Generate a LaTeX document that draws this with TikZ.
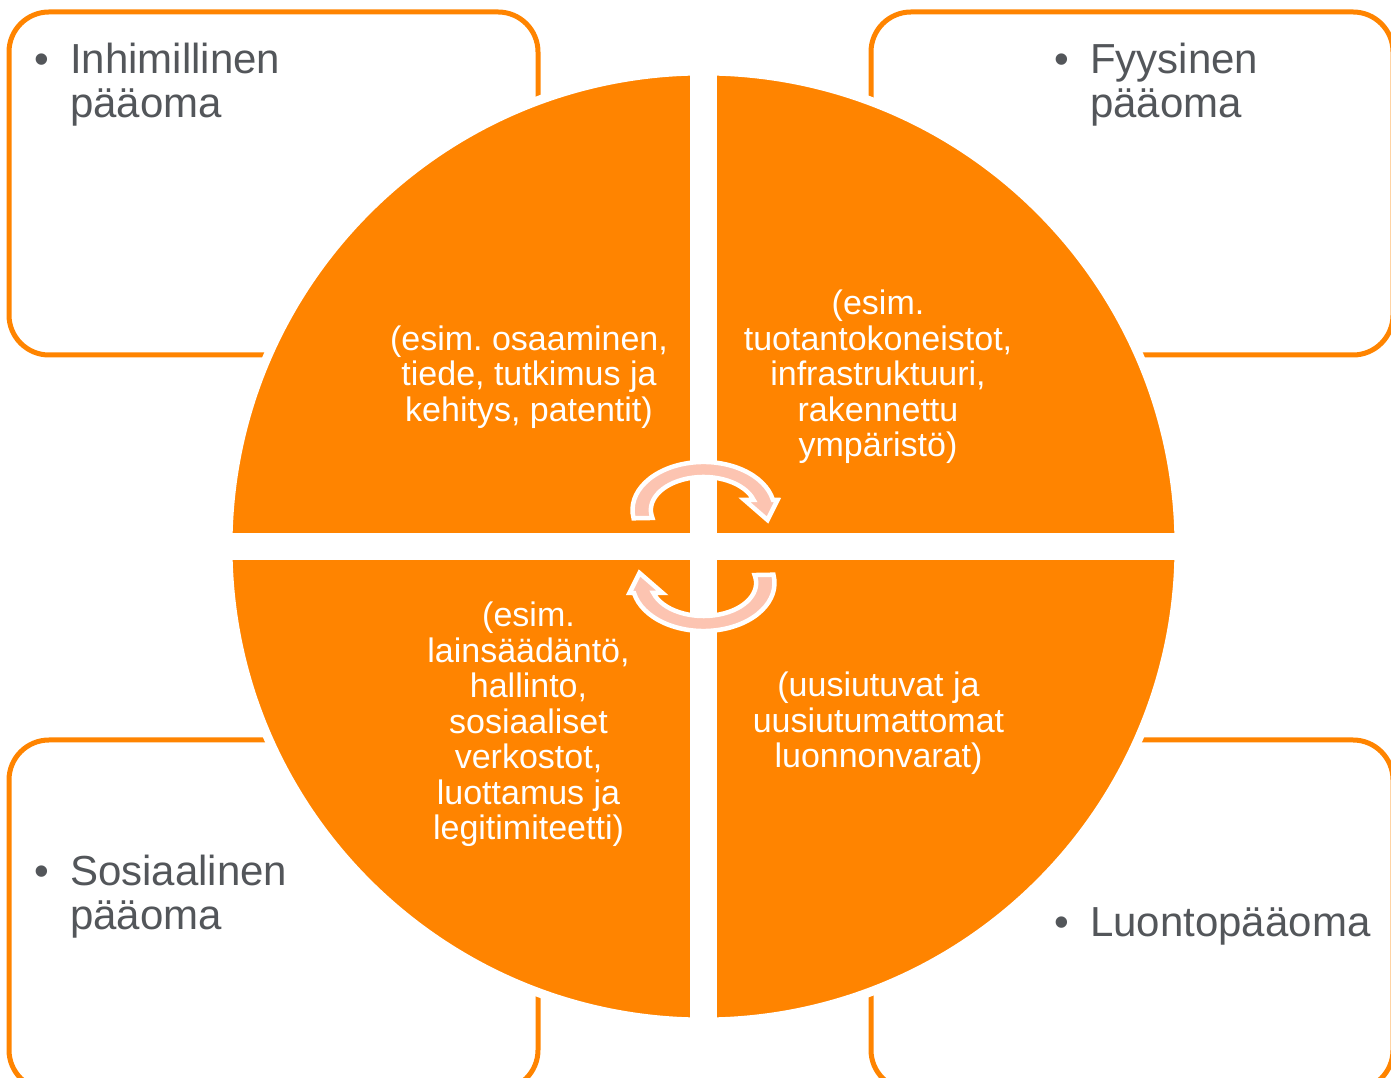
\documentclass[tikz,border=0pt]{standalone}
\usepackage{fontspec}
\setmainfont{Liberation Sans}
\frenchspacing
\definecolor{oranssi}{RGB}{255,132,0}
\definecolor{harmaa}{RGB}{83,86,90}
\definecolor{roosa}{RGB}{252,196,177}
\newcommand{\kohta}[1]{\begin{tabular}[t]{@{}p{36pt}@{}l@{}}•&#1\end{tabular}}
\tikzset{
  laatikko/.style={draw=oranssi, line width=5pt, rounded corners=40pt},
  otsikko/.style={text=harmaa, inner sep=0pt, anchor=base west, font=\fontsize{42}{44}\selectfont},
  esim/.style={text=white, align=center, inner sep=0pt, anchor=base, font=\fontsize{34}{35.5}\selectfont},
  nuoli/.style={fill=roosa, draw=white, line width=4.5pt, line join=miter}
}
\begin{document}
\begin{tikzpicture}[x=1pt,y=1pt]
\useasboundingbox (0,0) rectangle (1391,1078);
\clip (0,0) rectangle (1391,1078);
\draw[laatikko] (9,1066) rectangle (538,723);
\draw[laatikko] (871,1066) rectangle (1393,723);
\draw[laatikko] (9,338) rectangle (538,-12);
\draw[laatikko] (871,338) rectangle (1393,-12);
\coordinate (c) at (703.5,531.5);
\filldraw[fill=oranssi, draw=white, line width=9pt] (c) circle[radius=475.5];
\draw[white, line width=27pt] (c) ++(0,-485) -- ++(0,970);
\draw[white, line width=27pt] (c) ++(-485,0) -- ++(970,0);
\begin{scope}[shift={(703.5,568)}]
\path[nuoli] (-69.9,-8.3) arc[start angle=190, end angle=12, x radius=71, y radius=48]
  -- (74,10) -- (64,-10) -- (41,10) -- (50.1,10)
  arc[start angle=17.6, end angle=194, x radius=52.6, y radius=33] -- cycle;
\end{scope}
\begin{scope}[shift={(703.5,495)}, rotate=180]
\path[nuoli] (-69.9,-8.3) arc[start angle=190, end angle=12, x radius=71, y radius=48]
  -- (74,10) -- (64,-10) -- (41,10) -- (50.1,10)
  arc[start angle=17.6, end angle=194, x radius=52.6, y radius=33] -- cycle;
\end{scope}
\node[otsikko] (inh) at (34,1004) {\kohta{Inhimillinen\\&pääoma}};
\node[otsikko] (fyy) at (1054,1004) {\kohta{Fyysinen\\&pääoma}};
\node[otsikko] (sos) at (34,192) {\kohta{Sosiaalinen\\&pääoma}};
\node[otsikko] (luo) at (1054,141) {\kohta{Luontopääoma}};
\node[esim] (inhesim) at (529,656.5) {(esim. osaaminen,\\tiede, tutkimus ja\\kehitys, patentit)};
\node[esim] (fyyesim) at (878,621) {(esim.\\tuotantokoneistot,\\infrastruktuuri,\\rakennettu\\ympäristö)};
\node[esim] (sosesim) at (528.5,238) {(esim.\\lainsäädäntö,\\hallinto,\\sosiaaliset\\verkostot,\\luottamus ja\\legitimiteetti)};
\node[esim] (luoesim) at (878.5,310) {(uusiutuvat ja\\uusiutumattomat\\luonnonvarat)};
\end{tikzpicture}
\end{document}
